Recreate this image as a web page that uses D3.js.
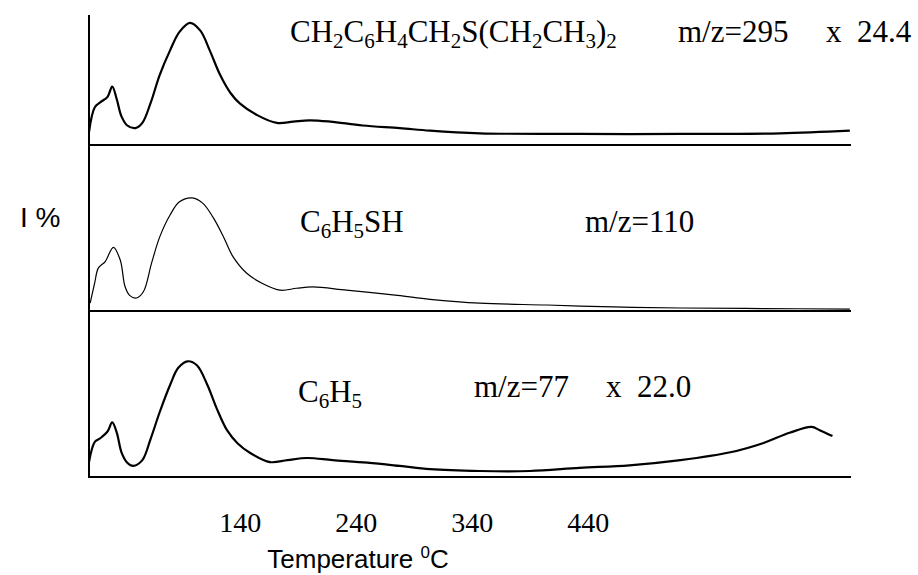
<!DOCTYPE html>
<html>
<head>
<meta charset="utf-8">
<script src="https://cdn.jsdelivr.net/npm/d3@7"></script>
<style>
  body { margin: 0; background: #fff; }
  svg { display: block; }
</style>
</head>
<body>
<div id="chart"></div>
<script>
// TPD traces, three stacked panels sharing one temperature axis

const tickTemps = [140, 240, 340, 440];

const topTemps = [10, 15, 20, 26, 30, 34, 38, 43, 50, 56, 63, 71, 80, 88, 97, 106, 114, 123, 132, 140, 155, 172, 186, 200, 218, 246, 278, 304, 347, 433, 520, 606, 666];
const topI     = [10, 29, 33, 37, 45, 35, 22, 15, 13, 17, 32, 54, 73, 87, 94, 88, 73, 54, 40, 32, 23, 17, 18, 19, 18, 15, 13, 11, 9, 8.5, 8.5, 9, 11];

const midTemps = [11, 15, 18, 24, 31, 37, 41, 45, 51, 57, 64, 71, 80, 88, 99, 108, 117, 126, 134, 146, 160, 175, 189, 203, 232, 276, 304, 347, 405, 462, 520, 591, 666];
const midI     = [6, 22, 33, 38, 49, 39, 19, 12, 10, 15, 37, 57, 74, 84, 87, 83, 72, 57, 42, 29, 21, 16, 17.5, 18.5, 16, 12, 9, 6, 4.6, 3.1, 2.3, 1.9, 1.5];

const botTemps = [10, 15, 20, 26, 30, 34, 38, 43, 48, 56, 63, 71, 80, 87, 95, 103, 112, 120, 129, 138, 149, 166, 181, 198, 220, 250, 278, 304, 347, 390, 433, 476, 520, 563, 591, 614, 633, 640, 651];
const botI     = [11.5, 27, 30, 35, 42, 34, 19, 11, 8.5, 13, 29, 50, 71, 84, 89, 86, 71, 53, 36, 26, 18.5, 11.5, 13, 14.6, 13, 11, 8.5, 6, 4.6, 4.6, 7, 9, 13, 19, 26, 34, 38.5, 36, 31.5];

const svg = d3.select("#chart")
  .append("svg")
  .attr("width", 918)
  .attr("height", 575);

const x = d3.scaleLinear()
  .domain([10, 667])
  .range([89, 851]);

// panel baselines
const baseY = [145, 311, 477];

const panels = [
  { t: topTemps, v: topI, w: 2.2 },
  { t: midTemps, v: midI, w: 1.2 },
  { t: botTemps, v: botI, w: 2.2 }
];

panels.forEach((p, i) => {
  const y = d3.scaleLinear().domain([0, 100]).range([baseY[i], baseY[i] - 130]);

  // baseline
  svg.append("line")
    .attr("x1", x(10)).attr("x2", x(667))
    .attr("y1", baseY[i]).attr("y2", baseY[i])
    .attr("stroke", "#000")
    .attr("stroke-width", 2);

  const line = d3.line()
    .x(d => x(d[0]))
    .y(d => y(d[1]))
    .curve(d3.curveCatmullRom.alpha(0.5));

  svg.append("path")
    .datum(p.t.map((t, k) => [t, p.v[k]]))
    .attr("fill", "none")
    .attr("stroke", "#000")
    .attr("stroke-width", p.w)
    .attr("stroke-linejoin", "round")
    .attr("d", line);
});

// vertical axis line
svg.append("line")
  .attr("x1", 89).attr("x2", 89)
  .attr("y1", 15).attr("y2", 478)
  .attr("stroke", "#000")
  .attr("stroke-width", 2);

// x axis labels
const xAxis = svg.append("g")
  .attr("transform", `translate(0,${baseY[2]})`)
  .call(d3.axisBottom(x).tickValues(tickTemps).tickSize(0).tickFormat(d3.format("d")));
xAxis.select(".domain").remove();
xAxis.selectAll("text")
  .attr("y", 55)
  .attr("dy", 0)
  .style("font-family", "'Liberation Serif', 'Times New Roman', serif")
  .style("font-size", "28px")
  .attr("fill", "#000");

// axis titles
const title = svg.append("text")
  .attr("x", 358)
  .attr("y", 568)
  .attr("text-anchor", "middle")
  .style("font-family", "'Liberation Sans', Arial, sans-serif")
  .style("font-size", "26px");
title.append("tspan").text("Temperature  ");
title.append("tspan").attr("dy", -10).style("font-size", "17px").text("0");
title.append("tspan").attr("dy", 10).text("C");

svg.append("text")
  .attr("x", 20)
  .attr("y", 227)
  .style("font-family", "'Liberation Sans', Arial, sans-serif")
  .style("font-size", "28px")
  .text("I %");

// labels with subscripts
function formula(xPos, yPos, parts) {
  const t = svg.append("text")
    .attr("x", xPos)
    .attr("y", yPos)
    .style("font-family", "'Liberation Serif', 'Times New Roman', serif")
    .style("font-size", "31px");
  let sub = false;
  parts.forEach(s => {
    const isSub = /^\d$/.test(s);
    const ts = t.append("tspan").text(s);
    if (isSub && !sub) { ts.attr("dy", 6).style("font-size", "21px"); sub = true; }
    else if (isSub) { ts.style("font-size", "21px"); }
    else if (sub) { ts.attr("dy", -6); sub = false; }
  });
}

formula(290, 42, ["CH", "2", "C", "6", "H", "4", "CH", "2", "S(CH", "2", "CH", "3", ")", "2"]);
formula(300, 232, ["C", "6", "H", "5", "SH"]);
formula(298, 402, ["C", "6", "H", "5"]);

const plain = [
  { x: 678, y: 42, s: "m/z=295" },
  { x: 826, y: 42, s: "x  24.4" },
  { x: 585, y: 232, s: "m/z=110" },
  { x: 474, y: 397, s: "m/z=77" },
  { x: 606, y: 397, s: "x  22.0" }
];
svg.selectAll("text.lbl")
  .data(plain)
  .enter()
  .append("text")
  .attr("class", "lbl")
  .attr("x", d => d.x)
  .attr("y", d => d.y)
  .attr("xml:space", "preserve")
  .style("white-space", "pre")
  .style("font-family", "'Liberation Serif', 'Times New Roman', serif")
  .style("font-size", "31px")
  .text(d => d.s);
</script>
</body>
</html>
